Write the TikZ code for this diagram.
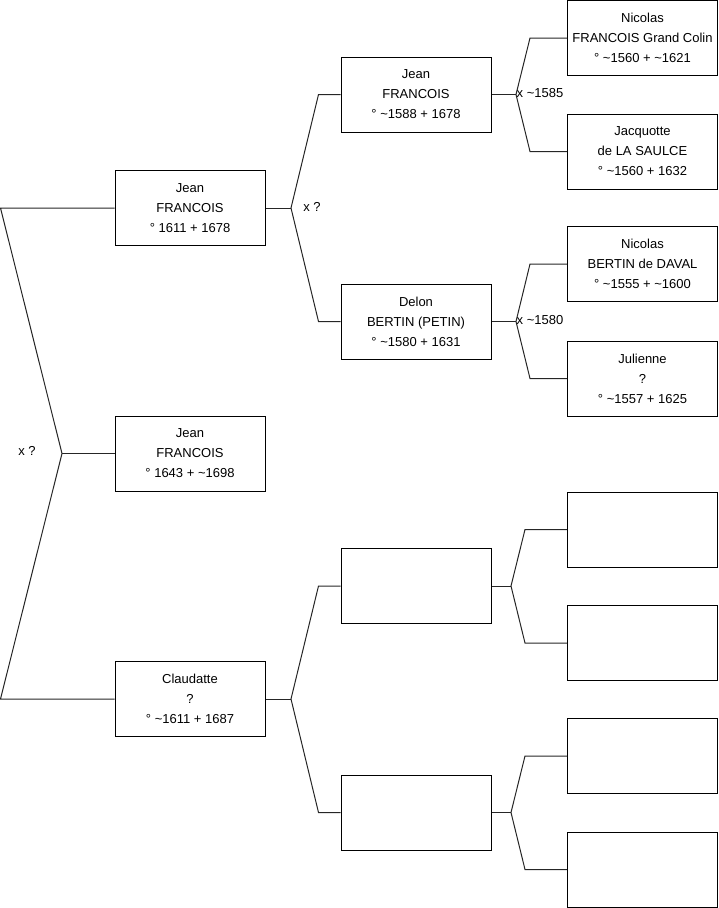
\documentclass[tikz,border=0pt]{standalone}
\usepackage{fontspec}
\setmainfont{Liberation Sans}
\newcommand{\tl}{\textasciitilde}
\begin{document}
\begin{tikzpicture}[x=1pt,y=-1pt,
  person/.style={draw=black, line width=1pt, minimum width=150pt, minimum height=75pt,
    inner sep=0pt, align=center, font={\fontsize{13}{20}\selectfont}},
  link/.style={draw=black!85, line width=1pt, line join=miter},
  marr/.style={inner sep=0pt, font={\fontsize{13}{15}\selectfont}}]
\useasboundingbox (0,0) rectangle (719,908);
% level 1
\node[person] (L1a) at (190,208) {Jean\\FRANCOIS\\° 1611 + 1678};
\node[person] (L1b) at (190,453.5) {Jean\\FRANCOIS\\° 1643 + \tl1698};
\node[person] (L1c) at (190,699) {Claudatte\\?\\° \tl1611 + 1687};
% level 2
\node[person] (L2a) at (416,94.5) {Jean\\FRANCOIS\\° \tl1588 + 1678};
\node[person] (L2b) at (416,321.5) {Delon\\BERTIN (PETIN)\\° \tl1580 + 1631};
\node[person] (L2c) at (416,586) {};
\node[person] (L2d) at (416,812.5) {};
% level 3
\node[person] (L3a) at (642.5,38) {Nicolas\\FRANCOIS Grand Colin\\° \tl1560 + \tl1621};
\node[person] (L3b) at (642.5,151.5) {Jacquotte\\de LA SAULCE\\° \tl1560 + 1632};
\node[person] (L3c) at (642.5,264) {Nicolas\\BERTIN de DAVAL\\° \tl1555 + \tl1600};
\node[person] (L3d) at (642.5,378.5) {Julienne\\?\\° \tl1557 + 1625};
\node[person] (L3e) at (642.5,529.5) {};
\node[person] (L3f) at (642.5,643) {};
\node[person] (L3g) at (642.5,756) {};
\node[person] (L3h) at (642.5,869.5) {};
% root fork
\coordinate (r) at (62,453.5);
\coordinate (ra) at (0.5,208);
\coordinate (rc) at (0.5,699);
\draw[link] (L1a.west) -- (ra) -- (r) -- (rc) -- (L1c.west);
\draw[link] (r) -- (L1b.west);
\node[marr] (mr) at (27,451) {x ?};
% level1 -> level2 forks
\coordinate (fa) at (291,208);
\draw[link] (L1a.east) -- (fa);
\draw[link] (L2a.west) -- ++(-22,0) -- (fa) -- ([xshift=-22pt]L2b.west) -- (L2b.west);
\node[marr] (ma) at (312,207) {x ?};
\coordinate (fc) at (291,699);
\draw[link] (L1c.east) -- (fc);
\draw[link] (L2c.west) -- ++(-22,0) -- (fc) -- ([xshift=-22pt]L2d.west) -- (L2d.west);
% level2 -> level3 forks
\coordinate (ga) at (516,94.5);
\draw[link] (L2a.east) -- (ga);
\draw[link] (L3a.west) -- ++(-37,0) -- (ga) -- ([xshift=-37pt]L3b.west) -- (L3b.west);
\node[marr, anchor=west] (mga) at (516.5,93.5) {x \tl1585};
\coordinate (gb) at (516,321.5);
\draw[link] (L2b.east) -- (gb);
\draw[link] (L3c.west) -- ++(-37,0) -- (gb) -- ([xshift=-37pt]L3d.west) -- (L3d.west);
\node[marr, anchor=west] (mgb) at (516.5,320.5) {x \tl1580};
\coordinate (gc) at (511,586);
\draw[link] (L2c.east) -- (gc);
\draw[link] (L3e.west) -- ++(-42,0) -- (gc) -- ([xshift=-42pt]L3f.west) -- (L3f.west);
\coordinate (gd) at (511,812.5);
\draw[link] (L2d.east) -- (gd);
\draw[link] (L3g.west) -- ++(-42,0) -- (gd) -- ([xshift=-42pt]L3h.west) -- (L3h.west);
\end{tikzpicture}
\end{document}
